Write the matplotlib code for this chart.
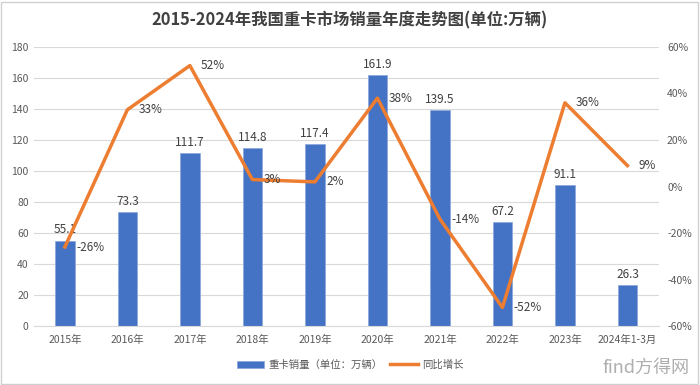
import matplotlib
matplotlib.use("Agg")
import matplotlib.pyplot as plt
from matplotlib.patches import Rectangle

plt.rcParams['font.family'] = ['Noto Sans CJK SC', 'DejaVu Sans']

categories = ["2015年", "2016年", "2017年", "2018年", "2019年", "2020年", "2021年", "2022年", "2023年", "2024年1-3月"]
sales = [55.1, 73.3, 111.7, 114.8, 117.4, 161.9, 139.5, 67.2, 91.1, 26.3]
growth = [-26, 33, 52, 3, 2, 38, -14, -52, 36, 9]
left_ticks = [0, 20, 40, 60, 80, 100, 120, 140, 160, 180]
right_ticks = [-60, -40, -20, 0, 20, 40, 60]

fig = plt.figure(figsize=(7, 3.85), dpi=100)
ax = fig.add_axes([0.048, 0.153, 0.893, 0.725])
ax2 = ax.twinx()

x = list(range(len(categories)))
bars = ax.bar(x, sales, width=0.31, color="#4472C4", edgecolor="#8faadc", linewidth=0.6,
              label="重卡销量（单位：万辆）", zorder=2)
ax.set_ylim(0, 180)
ax.set_xlim(-0.5, len(categories) - 0.5)
ax.set_yticks(left_ticks)
ax.grid(axis='y', color='#d9d9d9', linewidth=0.8, zorder=0)
ax.set_axisbelow(True)
ax.set_xticks(x)
ax.set_xticklabels(categories)
for s in ax.spines.values():
    s.set_visible(False)
ax.spines['bottom'].set_visible(True)
ax.spines['bottom'].set_color('#d9d9d9')
ax.tick_params(axis='both', length=0, labelsize=7.5, colors='#595959')
ax.tick_params(axis='x', pad=6)
for xi, v in zip(x, sales):
    ax.annotate(f"{v}", (xi, v), xytext=(0, 3), textcoords='offset points',
                ha='center', va='bottom', fontsize=8.5, color='#404040')

line, = ax2.plot(x, growth, color="#ED7D31", linewidth=2.5, label="同比增长", zorder=3)
ax2.set_ylim(-60, 60)
ax2.set_yticks(right_ticks)
ax2.set_yticklabels([f"{t}%" for t in right_ticks])
for s in ax2.spines.values():
    s.set_visible(False)
ax2.tick_params(axis='y', length=0, labelsize=7.5, colors='#595959', pad=6)
for xi, g in zip(x, growth):
    ax2.annotate(f"{g}%", (xi, g), xytext=(8, 0), textcoords='offset points',
                 ha='left', va='center', fontsize=8.5, color='#404040')

fig.text(0.5, 0.948, "2015-2024年我国重卡市场销量年度走势图(单位:万辆)", ha='center', va='center',
         fontsize=11.8, fontweight='bold', color='#404040')

fig.legend(handles=[bars, line], loc='center', bbox_to_anchor=(0.5, 0.052), ncol=2,
           frameon=False, fontsize=7.5, labelcolor='#595959', handlelength=2.6,
           handleheight=0.7, columnspacing=0.8, handletextpad=0.4)

fig.text(0.985, 0.045, "find方得网", ha='right', va='center', fontsize=13,
         color='#9a9a9a', alpha=0.8)

fig.patches.append(Rectangle((0.002, 0.003), 0.995, 0.993, transform=fig.transFigure,
                             fill=False, edgecolor='#d0d0d0', linewidth=1))

fig.savefig("out.png", dpi=100)
